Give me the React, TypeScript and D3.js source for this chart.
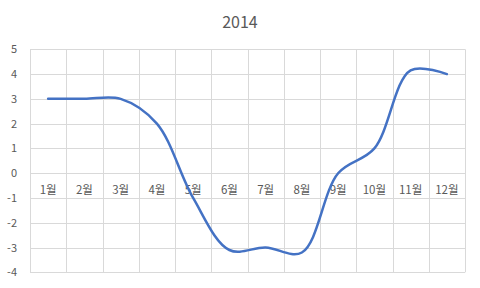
import React from "react";
import * as d3 from "d3";

const title = "2014";
const months = ["1월", "2월", "3월", "4월", "5월", "6월", "7월", "8월", "9월", "10월", "11월", "12월"];
const values = [3, 3, 3, 2, -1, -3.1, -3, -3.2, 0, 1, 4.15, 4];
const yTicks = [5, 4, 3, 2, 1, 0, -1, -2, -3, -4];

const W = 480;
const H = 288;
const left = 30;
const right = 465;
const top = 49.3;
const bottom = 272.3;

export default function App() {
  const x = d3.scaleBand<string>().domain(months).range([left, right]);
  const y = d3.scaleLinear().domain([-4, 5]).range([bottom, top]);
  const line = d3
    .line<number>()
    .x((_, i) => (x(months[i]) as number) + x.bandwidth() / 2)
    .y((d) => y(d))
    .curve(d3.curveCatmullRom.alpha(0.5));
  const font = "'Noto Sans CJK KR', 'Noto Sans', sans-serif";
  const grid = "#d9d9d9";
  const text = "#595959";
  const edges = months.map((m) => x(m) as number).concat([right]);
  return (
    <svg width={W} height={H} style={{ position: "absolute", left: 0, top: 0, background: "#fff" }}>
      <text x={W / 2} y={28} textAnchor="middle" fontFamily={font} fontSize={16} fill={text}>
        {title}
      </text>
      {yTicks.map((t) => (
        <line key={"h" + t} x1={left} x2={right} y1={Math.round(y(t)) + 0.5} y2={Math.round(y(t)) + 0.5} stroke={grid} strokeWidth={1} />
      ))}
      {edges.map((e, i) => (
        <line key={"v" + i} x1={Math.round(e) + 0.5} x2={Math.round(e) + 0.5} y1={top} y2={bottom} stroke={grid} strokeWidth={1} />
      ))}
      {yTicks.map((t) => (
        <text key={"yt" + t} x={17} y={y(t) + 4} textAnchor="end" fontFamily={font} fontSize={11} fill={text}>
          {t}
        </text>
      ))}
      {months.map((m) => (
        <text key={m} x={(x(m) as number) + x.bandwidth() / 2} y={y(0) + 21} textAnchor="middle" fontFamily={font} fontSize={11.5} fill={text}>
          {m}
        </text>
      ))}
      <path d={line(values) || ""} fill="none" stroke="#4472c4" strokeWidth={2.5} strokeLinecap="round" strokeLinejoin="round" />
    </svg>
  );
}
